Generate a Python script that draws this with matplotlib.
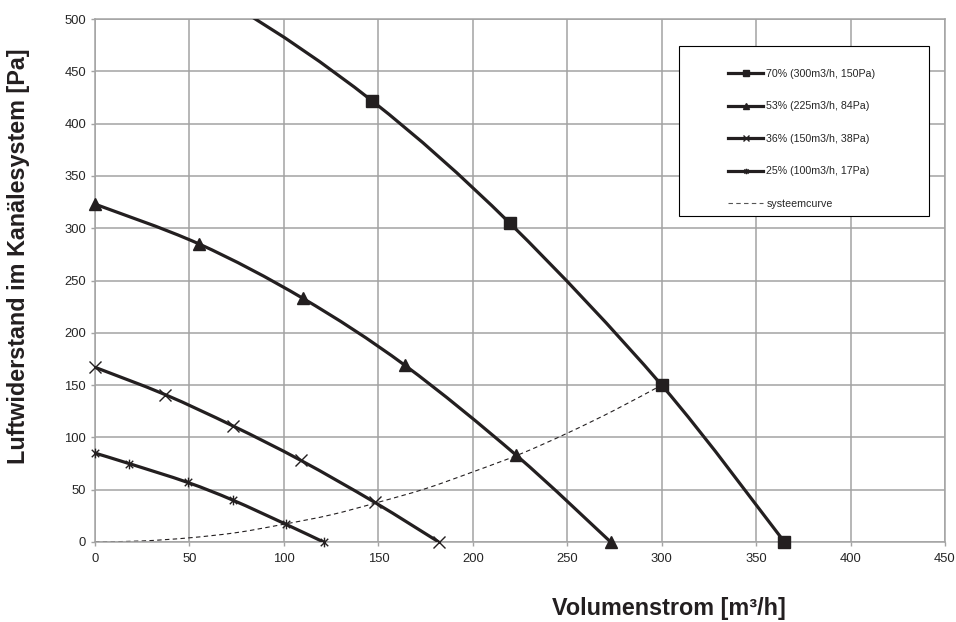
import numpy as np
import matplotlib.pyplot as plt
from matplotlib.path import Path
from matplotlib.patches import PathPatch, Rectangle
from matplotlib.lines import Line2D

plt.rcParams['font.family'] = ['Liberation Sans', 'DejaVu Sans']

# fan curves
x70 = [0, 73, 146.5, 219.5, 300, 365]
y70 = [578, 513, 422, 305, 150, 0]
x53 = [0, 55, 110, 164, 223, 273]
y53 = [323, 285, 233, 169, 83, 0]
x36 = [0, 37, 73, 109, 148, 182]
y36 = [167, 141, 111, 78, 38, 0]
x25 = [0, 18, 49, 73, 101, 121]
y25 = [85, 75, 57, 40, 17, 0]
# system curve
xsys = [0, 25, 50, 75, 100, 125, 150, 175, 200, 225, 250, 275, 300]
ysys = [0, 1, 4, 9, 17, 26, 38, 51, 67, 84, 104, 126, 150]

labels = ['70% (300m3/h, 150Pa)', '53% (225m3/h, 84Pa)',
          '36% (150m3/h, 38Pa)', '25% (100m3/h, 17Pa)', 'systeemcurve']
xticks = list(range(0, 451, 50))
yticks = list(range(0, 501, 50))

ink = '#231f20'

# excel style star: x with a vertical bar
star = Path([(-1, -1), (1, 1), (-1, 1), (1, -1), (0, -1.3), (0, 1.3)],
            [Path.MOVETO, Path.LINETO] * 3)


def smooth(x, y, t=1/6):
    # smoothed line like excel, bezier through the points
    p = np.column_stack([x, y]).astype(float)
    q = np.vstack([p[0], p, p[-1]])
    verts = [p[0]]
    codes = [Path.MOVETO]
    for i in range(len(p) - 1):
        c1 = q[i+1] + (q[i+2] - q[i]) * t
        c2 = q[i+2] - (q[i+3] - q[i+1]) * t
        verts += [c1, c2, q[i+2]]
        codes += [Path.CURVE4] * 3
    return Path(verts, codes)


fig = plt.figure(figsize=(9.56, 6.22), dpi=100)
ax = fig.add_axes([95/956, 1 - 542/622, 850/956, 523/622])

ymax = 500
ax.set_xlim(0, 450)
ax.set_ylim(0, ymax)
ax.set_xticks(xticks)
ax.set_yticks(yticks)
ax.grid(True, color='#a3a3a3', lw=1.1)
ax.set_axisbelow(True)
for s in ax.spines.values():
    s.set_color('#a3a3a3')
    s.set_linewidth(1.1)
ax.tick_params(colors='#a3a3a3', labelcolor='#262626', labelsize=9.4,
               length=3, width=1)
ax.tick_params(axis='x', pad=5)

series = [
    (x70, y70, 's', 8, 1),
    (x53, y53, '^', 8, 1),
    (x36, y36, 'x', 8, 1),
    (x25, y25, star, 7, 1),
]
handles = []
for x, y, m, ms, mew in series:
    ax.add_patch(PathPatch(smooth(x, y), fill=False, ec=ink, lw=2.3,
                           capstyle='butt', zorder=3))
    # markers are not cut at the axis edge, only the ones off the chart are left out
    xm = [a for a, b in zip(x, y) if b <= ymax]
    ym = [b for b in y if b <= ymax]
    ax.plot(xm, ym, ls='none', marker=m, ms=ms, color=ink, mew=mew,
            zorder=4, clip_on=False)
    handles.append(Line2D([], [], color=ink, lw=2.3, marker=m,
                          ms=4, mew=1))

ax.add_patch(PathPatch(smooth(xsys, ysys), fill=False, ec=ink, lw=0.8,
                       ls=(0, (4, 3)), zorder=2))
handles.append(Line2D([], [], color='#555555', lw=0.8, ls=(0, (4, 3))))

# legend box
fig.add_artist(Rectangle((679/956, 1 - 216/622), 250/956, 170/622,
                         transform=fig.transFigure, fc='white', ec='black',
                         lw=0.8, zorder=1))
fig.legend(handles, labels, loc='upper left',
           bbox_to_anchor=(728/956, 1 - 69/622), frameon=False,
           fontsize=7.7, labelspacing=2.1, handlelength=3.3,
           handletextpad=0.3, borderpad=0, borderaxespad=0,
           labelcolor='#262626')

fig.text(19/956, 1 - 256/622, 'Luftwiderstand im Kanälesystem [Pa]',
         rotation=90, ha='center', va='center', fontsize=16.8,
         fontweight='bold', color=ink)
fig.text(669/956, 1 - 609/622, 'Volumenstrom [m³/h]',
         ha='center', va='center', fontsize=16.8, fontweight='bold', color=ink)

fig.savefig('out.png', dpi=100)
